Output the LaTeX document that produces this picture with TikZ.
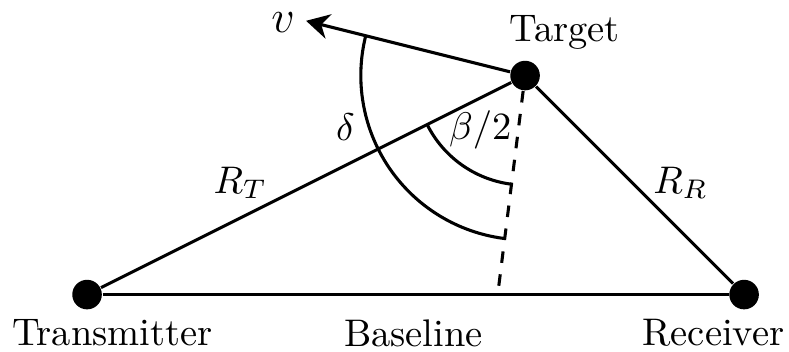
\documentclass[tikz,border=0pt]{standalone}
\usetikzlibrary{calc, arrows.meta}

\begin{document}
\begin{tikzpicture}[
    dot/.style={circle, fill=black, inner sep=0pt, minimum size=0.27cm},
    ln/.style={thick}
]
    \useasboundingbox (-0.795,-0.516) rectangle (6.41,2.69);

    % Transmitter, receiver and target
    \node[dot] (tx) at (0,0) {};
    \node[dot] (rx) at (6,0) {};
    \node[dot] (tg) at (4,2) {};
    \coordinate (vtip) at (2,2.5);
    \coordinate (foot) at (3.75,0);

    % Triangle
    \draw[ln] (tx) -- (rx);
    \draw[ln] (tx) -- (tg);
    \draw[ln] (tg) -- (rx);

    % Velocity and bisector
    \draw[ln, -{Stealth[length=6pt, width=6.5pt]}] (tg) -- (vtip);
    \draw[ln, dashed] (tg) -- (foot);

    % Angles
    \draw[ln] ($(tg.center)+(206.57:1)$) arc[start angle=206.57, end angle=262.8, radius=1];
    \draw[ln] ($(tg.center)+(166:1.5)$) arc[start angle=166, end angle=263, radius=1.5];

    % Labels
    \node (lv) at (1.79,2.48) {\large $v$};
    \node (ltg) at (4.36,2.39) {Target};
    \node (ldelta) at (2.36,1.53) {$\delta$};
    \node (lbeta) at (3.59,1.50) {$\beta/2$};
    \node (lrt) at (1.40,1.02) {$R_T$};
    \node (lrr) at (5.42,1.02) {$R_R$};
    \node (ltx) at (0.23,-0.35) {Transmitter};
    \node (lbase) at (2.98,-0.35) {Baseline};
    \node (lrx) at (5.72,-0.35) {Receiver};
\end{tikzpicture}
\end{document}
